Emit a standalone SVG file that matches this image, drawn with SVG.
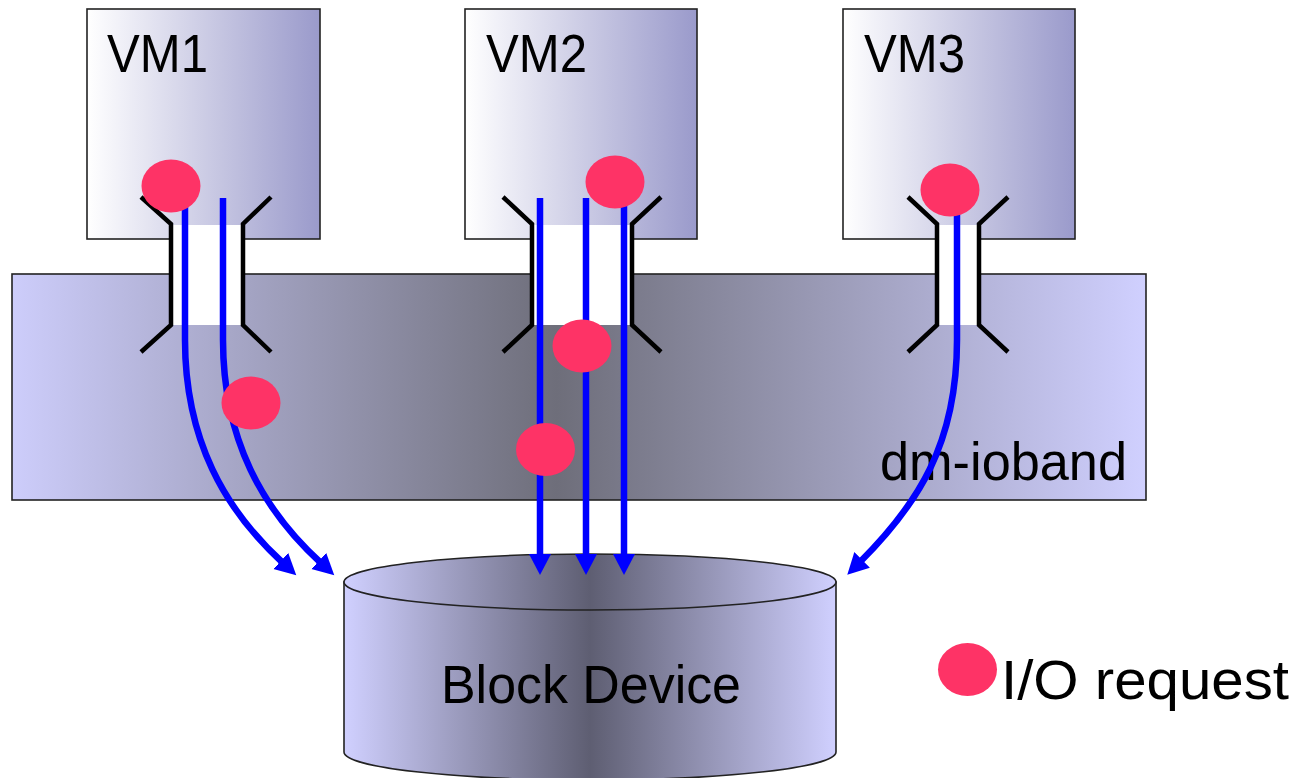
<svg xmlns="http://www.w3.org/2000/svg" width="1299" height="778" viewBox="0 0 1299 778">
  <style>
    .lbl { font-family: "Liberation Sans", Arial, sans-serif; font-size: 53px; fill: #000; }
    .box { stroke: #222; stroke-width: 1.6; }
    .win { fill: #ffffff; }
    .funnel { fill: none; stroke: #000; stroke-width: 4.5; stroke-linejoin: miter; }
    .io { fill: none; stroke: #0000ff; stroke-width: 6.5; marker-end: url(#arrow); }
    .req { fill: #fe3366; }
  </style>
  <defs>
    <linearGradient id="vmGrad" x1="0" y1="0" x2="1" y2="0">
      <stop offset="0" stop-color="#ffffff"/>
      <stop offset="1" stop-color="#9a9acb"/>
    </linearGradient>
    <linearGradient id="bandGrad" x1="0" y1="0" x2="1" y2="0">
      <stop offset="0" stop-color="#cdcdfb"/>
      <stop offset="0.48" stop-color="#6e6e7a"/>
      <stop offset="1" stop-color="#d0d0ff"/>
    </linearGradient>
    <linearGradient id="cylGrad" x1="0" y1="0" x2="1" y2="0">
      <stop offset="0" stop-color="#d0d0ff"/>
      <stop offset="0.5" stop-color="#5e5e72"/>
      <stop offset="1" stop-color="#d0d0ff"/>
    </linearGradient>
    <marker id="arrow" markerUnits="userSpaceOnUse" markerWidth="24" markerHeight="24" viewBox="0 0 24 24" refX="3" refY="12" orient="auto">
      <path d="M0,1 L21,12 L0,23 Z" fill="#0000ff"/>
    </marker>
  </defs>

  <g id="vm1">
    <rect class="box" x="87" y="9" width="233" height="230" fill="url(#vmGrad)"/>
    <text class="lbl" x="107" y="72" textLength="101" lengthAdjust="spacingAndGlyphs">VM1</text>
  </g>
  <g id="vm2">
    <rect class="box" x="465" y="9" width="232" height="230" fill="url(#vmGrad)"/>
    <text class="lbl" x="486" y="72" textLength="101" lengthAdjust="spacingAndGlyphs">VM2</text>
  </g>
  <g id="vm3">
    <rect class="box" x="843" y="9" width="232" height="230" fill="url(#vmGrad)"/>
    <text class="lbl" x="864" y="72" textLength="101" lengthAdjust="spacingAndGlyphs">VM3</text>
  </g>

  <g id="dm-ioband">
    <rect class="box" x="12" y="274" width="1134" height="226" fill="url(#bandGrad)"/>
    <text class="lbl" x="880" y="480" textLength="247" lengthAdjust="spacingAndGlyphs">dm-ioband</text>
  </g>

  <g id="ports">
    <rect class="win" x="171" y="225" width="72" height="100"/>
    <rect class="win" x="532" y="225" width="100" height="100"/>
    <rect class="win" x="937" y="225" width="42" height="100"/>
    <path class="funnel" d="M141,197 L171,224 L171,325 L141,352 M271,197 L243,224 L243,325 L271,352"/>
    <path class="funnel" d="M503,197 L532,224 L532,325 L503,352 M661,197 L632,224 L632,325 L661,352"/>
    <path class="funnel" d="M908,197 L937,224 L937,325 L908,352 M1008,197 L979,224 L979,325 L1008,352"/>
  </g>

  <g id="block-device">
    <path class="box" d="M344,582 L344,752 A246,28 0 0 0 836,752 L836,582 Z" fill="url(#cylGrad)"/>
    <ellipse class="box" cx="590" cy="582" rx="246" ry="28" fill="url(#cylGrad)"/>
    <text class="lbl" x="441" y="703" textLength="300" lengthAdjust="spacingAndGlyphs">Block Device</text>
  </g>

  <g id="connectors">
    <path class="io" d="M185,205 L185,340 C185,440 225,510 283,563"/>
    <path class="io" d="M223,198 L223,340 C223,440 263,510 321,563"/>
    <path class="io" d="M540,198 L540,557"/>
    <path class="io" d="M586,198 L586,557"/>
    <path class="io" d="M624,205 L624,557"/>
    <path class="io" d="M957,210 L957,340 C957,445 917,505 860,562"/>
  </g>

  <g id="io-requests">
    <ellipse class="req" cx="171" cy="186" rx="29.5" ry="26.5"/>
    <ellipse class="req" cx="251" cy="403" rx="29.5" ry="26.5"/>
    <ellipse class="req" cx="615" cy="182" rx="29.5" ry="26.5"/>
    <ellipse class="req" cx="582" cy="346" rx="29.5" ry="26.5"/>
    <ellipse class="req" cx="545.5" cy="449.5" rx="29.5" ry="26.5"/>
    <ellipse class="req" cx="950" cy="190" rx="29.5" ry="26.5"/>
  </g>

  <g id="legend">
    <ellipse class="req" cx="967.5" cy="669.5" rx="29.5" ry="26.5"/>
    <text class="lbl" x="1001" y="699" style="font-size:56px" textLength="288" lengthAdjust="spacingAndGlyphs">I/O request</text>
  </g>
</svg>
